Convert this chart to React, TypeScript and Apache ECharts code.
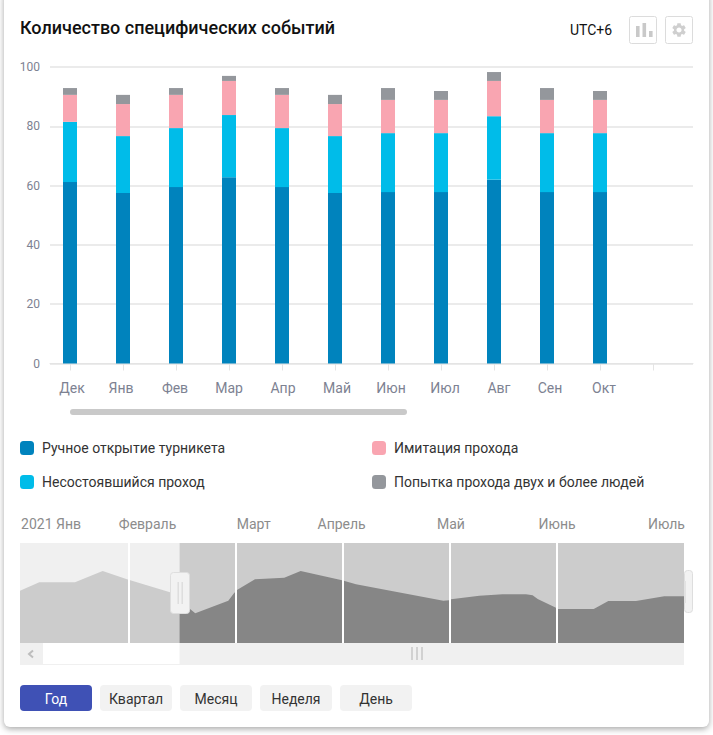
import React, { useEffect, useRef } from "react";
import * as echarts from "echarts";

const FONT = "Roboto";
const categories = ["Дек", "Янв", "Фев", "Мар", "Апр", "Май", "Июн", "Июл", "Авг", "Сен", "Окт", ""];
const manualOpen = [61.2, 57.5, 59.5, 62.8, 59.5, 57.5, 57.8, 57.8, 62, 57.8, 57.8];
const failedPass = [20.3, 19.2, 19.9, 21, 19.9, 19.2, 19.9, 19.9, 21.4, 19.9, 19.9];
const imitation = [9.1, 10.8, 11.2, 11.5, 11.2, 10.8, 11.2, 11.2, 11.9, 11.2, 11.2];
const twoPeople = [2.3, 3.1, 2.3, 1.7, 2.3, 3.1, 4, 3, 3, 4, 3];
const seriesNames = [
  "Ручное открытие турникета",
  "Несостоявшийся проход",
  "Имитация прохода",
  "Попытка прохода двух и более людей",
];
const seriesColors = ["#0083bd", "#00bce9", "#f9a5b1", "#94979c"];
const labelNudge = [2, -2, -1, 0, 1, 2, 3, 4, 5, 3, 4, 0];

const navLabels = ["2021 Янв", "Февраль", "Март", "Апрель", "Май", "Июнь", "Июль"];
const navLabelAt = [0.29, 1.19, 2.18, 3.0, 4.02, 5.01, 6.03];
const navSeparators = [1.007, 2.01, 3.013, 4.01, 5.009];
const navSelectionStart = 1.488;
const navEnd = 6.194;
const navLeft: [number, number][] = [
  [0, 52.3], [0.18, 60.7], [0.513, 60.7], [0.771, 72], [0.998, 63.7], [1.399, 50.7], [1.488, 42],
];
const navRight: [number, number][] = [
  [1.488, 42], [1.586, 34], [1.635, 29.7], [1.943, 42.3], [1.996, 49.7], [2.024, 53], [2.192, 63.7],
  [2.465, 65.3], [2.618, 72], [3.004, 62.7], [3.134, 58.7], [3.949, 42.3], [4.002, 42.7], [4.02, 43.7],
  [4.285, 47.3], [4.503, 48.7], [4.72, 48.7], [4.782, 47.7], [4.829, 44], [5.0, 35.3], [5.019, 34],
  [5.352, 34], [5.488, 42], [5.746, 42], [6.01, 46.7], [6.194, 46.7],
];
const periodButtons = ["Год", "Квартал", "Месяц", "Неделя", "День"];

const GEAR =
  "M19.14 12.94c.04-.3.06-.61.06-.94 0-.32-.02-.64-.07-.94l2.03-1.58c.18-.14.23-.41.12-.61l-1.92-3.32c-.12-.22-.37-.29-.59-.22l-2.39.96c-.5-.38-1.03-.7-1.62-.94l-.36-2.54c-.04-.24-.24-.41-.48-.41h-3.84c-.24 0-.43.17-.47.41l-.36 2.54c-.59.24-1.13.57-1.62.94l-2.39-.96c-.22-.08-.47 0-.59.22L2.74 8.87c-.12.21-.08.47.12.61l2.03 1.58c-.05.3-.09.63-.09.94s.02.64.07.94l-2.03 1.58c-.18.14-.23.41-.12.61l1.92 3.32c.12.22.37.29.59.22l2.39-.96c.5.38 1.03.7 1.62.94l.36 2.54c.05.24.24.41.48.41h3.84c.24 0 .44-.17.47-.41l.36-2.54c.59-.24 1.13-.56 1.62-.94l2.39.96c.22.08.47 0 .59-.22l1.92-3.32c.12-.22.07-.47-.12-.61l-2.01-1.58zM12 15.6c-1.98 0-3.6-1.62-3.6-3.6s1.62-3.6 3.6-3.6 3.6 1.62 3.6 3.6-1.62 3.6-3.6 3.6z";
echarts.graphic.registerShape("gearIcon", echarts.graphic.extendPath(GEAR, {}) as any);

function rect(x: number, y: number, w: number, h: number, fill: string, r = 0, stroke?: string, lw = 1, z = 50) {
  return {
    type: "rect", z, silent: true,
    shape: { x, y, width: w, height: h, r },
    style: { fill, stroke: stroke ?? "none", lineWidth: lw },
  };
}
function text(t: string, x: number, y: number, size: number, color: string, align = "left", weight: any = 400) {
  return {
    type: "text", z: 60, silent: true, x, y,
    style: { text: t, fill: color, font: `${weight} ${size}px ${FONT}`, textAlign: align, textVerticalAlign: "middle" },
  };
}

function buildGraphics() {
  const g: any[] = [];
  g.push(text("Количество специфических событий", 20, 27, 18, "#111111", "left", 500));
  g.push(text("UTC+6", 570, 30, 14, "#111111"));
  // toolbar icons
  g.push(rect(629.5, 16.5, 27, 27, "#fff", 2, "#dcdcdc", 1));
  g.push(rect(636, 26, 3.6, 11, "#c9c9c9"), rect(642.5, 23, 3.6, 14, "#c9c9c9"), rect(649, 31, 3.6, 6, "#c9c9c9"));
  g.push(rect(665.5, 16.5, 27, 27, "#fff", 2, "#dcdcdc", 1));
  g.push({ type: "gearIcon", z: 60, silent: true, x: 670.5, y: 21.5, scaleX: 0.71, scaleY: 0.71, style: { fill: "#cfcfcf" } });
  // main chart scrollbar
  g.push(rect(70, 409, 337, 6, "#c9c9c9", 3));
  // navigator scrollbar
  g.push(rect(20, 643, 664, 22, "#f0f0f0", 0, undefined, 1, 40));
  g.push(rect(43, 643, 136.5, 21, "#ffffff", 0, undefined, 1, 41));
  g.push({
    type: "polyline", z: 60, silent: true,
    shape: { points: [[33, 650.5], [29, 654], [33, 657.5]] },
    style: { stroke: "#bdbdbd", lineWidth: 2, fill: "none" },
  });
  [412, 417, 422].forEach((x) =>
    g.push({ type: "line", z: 60, silent: true, shape: { x1: x, y1: 647, x2: x, y2: 660 }, style: { stroke: "#bdbdbd", lineWidth: 1.2 } })
  );
  // navigator handles
  g.push(rect(684.5, 570.5, 8, 42, "#f2f2f2", 3, "#dedede", 1, 30));
  g.push(rect(684, 581, 2, 22, "#e2e2e2", 0, undefined, 1, 31));
  g.push(rect(170.5, 572.5, 19, 41, "#f2f2f2", 3, "#dedede", 1, 60));
  g.push(rect(177.5, 582, 1.4, 22, "#dcdcdc", 0, undefined, 1, 61), rect(181.5, 582, 1.4, 22, "#dcdcdc", 0, undefined, 1, 61));
  // period buttons
  periodButtons.forEach((b, i) => {
    const x = 20 + i * 80;
    g.push(rect(x, 685, 72, 26, i === 0 ? "#3f51b5" : "#f2f2f2", 4));
    g.push(text(b, x + 36, 698.5, 14, i === 0 ? "#ffffff" : "#333333", "center"));
  });
  return g;
}

export default function App() {
  const ref = useRef<HTMLDivElement>(null);
  useEffect(() => {
    document.body.style.margin = "0";
    document.body.style.overflow = "hidden";
    const chart = echarts.init(ref.current!, undefined, { renderer: "svg" });
    const values = [manualOpen, failedPass, imitation, twoPeople];
    chart.setOption({
      animation: false,
      backgroundColor: "transparent",
      textStyle: { fontFamily: FONT },
      grid: [
        { left: 43.5, width: 636, top: 67, height: 296.5 },
        { left: 50, right: 20, top: 67, height: 296.5 },
        { left: 20, width: 664, top: 543, height: 100 },
      ],
      xAxis: [
        {
          gridIndex: 0,
          type: "category",
          data: categories.map((c, i) => {
            const n = labelNudge[i] * 2;
            return { value: c, textStyle: { padding: n >= 0 ? [0, 0, 0, n] : [0, -n, 0, 0] } };
          }),
          axisLine: { show: false },
          axisTick: { show: true, alignWithLabel: true, length: 7, lineStyle: { color: "#e4e4e4" } },
          axisLabel: { interval: 0, color: "#7d8292", fontSize: 14, margin: 17, fontFamily: FONT },
        },
        {
          gridIndex: 1,
          type: "value",
          min: 0,
          max: 1,
          axisLine: { show: true, onZero: false, lineStyle: { color: "#e4e4e4", width: 1 } },
          axisTick: { show: false },
          axisLabel: { show: false },
          splitLine: { show: false },
        },
        {
          gridIndex: 2,
          type: "value",
          position: "top",
          min: 0,
          max: navEnd,
          axisLine: { show: false },
          axisTick: { show: false },
          splitLine: { show: false },
          axisLabel: {
            show: true,
            customValues: navLabelAt,
            formatter: (v: number) => navLabels[navLabelAt.indexOf(v)],
            color: "#8c8c8c",
            fontSize: 14,
            margin: 12,
            fontFamily: FONT,
            hideOverlap: false,
          },
        },
      ],
      yAxis: [
        { gridIndex: 0, type: "value", min: 0, max: 100, show: false },
        {
          gridIndex: 1,
          type: "value",
          min: 0,
          max: 100,
          interval: 20,
          axisLine: { show: false },
          axisTick: { show: false },
          axisLabel: { color: "#7d8292", fontSize: 12, margin: 10, fontFamily: FONT },
          splitLine: { show: true, lineStyle: { color: "#ebebeb", width: 2 } },
        },
        { gridIndex: 2, type: "value", min: 0, max: 100, show: false },
      ],
      legend: [
        {
          left: 20, top: 441, padding: 0, orient: "vertical", itemWidth: 14, itemHeight: 14, itemGap: 20,
          icon: "roundRect", data: seriesNames.slice(0, 2), selectedMode: false,
          textStyle: { color: "#333333", fontSize: 14, padding: [0, 0, 0, 3], fontFamily: FONT },
        },
        {
          left: 372, top: 441, padding: 0, orient: "vertical", itemWidth: 14, itemHeight: 14, itemGap: 20,
          icon: "roundRect", data: seriesNames.slice(2, 4), selectedMode: false,
          textStyle: { color: "#333333", fontSize: 14, padding: [0, 0, 0, 3], fontFamily: FONT },
        },
      ],
      graphic: { elements: buildGraphics() },
      series: [
        ...seriesNames.map((name, i) => ({
          name,
          type: "bar",
          stack: "events",
          xAxisIndex: 0,
          yAxisIndex: 0,
          barWidth: 14,
          data: values[i],
          itemStyle: { color: seriesColors[i] },
          z: 3,
        })),
        {
          type: "line",
          xAxisIndex: 2,
          yAxisIndex: 2,
          data: navLeft,
          showSymbol: false,
          lineStyle: { width: 0 },
          areaStyle: { color: "#cccccc", opacity: 1 },
          silent: true,
          z: 3,
          markArea: {
            silent: true,
            itemStyle: { color: "#f0f0f0" },
            data: [[{ xAxis: 0, yAxis: 0 }, { xAxis: navSelectionStart, yAxis: 100 }]],
          },
        },
        {
          type: "line",
          xAxisIndex: 2,
          yAxisIndex: 2,
          data: navRight,
          showSymbol: false,
          lineStyle: { width: 0 },
          areaStyle: { color: "#868686", opacity: 1 },
          silent: true,
          z: 3,
          markArea: {
            silent: true,
            itemStyle: { color: "#cccccc" },
            data: [[{ xAxis: navSelectionStart, yAxis: 0 }, { xAxis: navEnd, yAxis: 100 }]],
          },
          markLine: {
            silent: true,
            symbol: "none",
            label: { show: false },
            lineStyle: { color: "#ffffff", width: 2, type: "solid" },
            data: navSeparators.map((x) => ({ xAxis: x })),
          },
        },
      ],
    });
    return () => chart.dispose();
  }, []);
  return (
    <div style={{ position: "absolute", left: 0, top: 0, width: 713, height: 735, background: "#fff", overflow: "hidden" }}>
      <div
        style={{
          position: "absolute", left: 4, top: -10, width: 705, height: 737, background: "#fff",
          borderRadius: 6, boxShadow: "0 2px 6px rgba(0,0,0,0.35)",
        }}
      />
      <div ref={ref} style={{ position: "absolute", left: 0, top: 0, width: 713, height: 735 }} />
    </div>
  );
}
